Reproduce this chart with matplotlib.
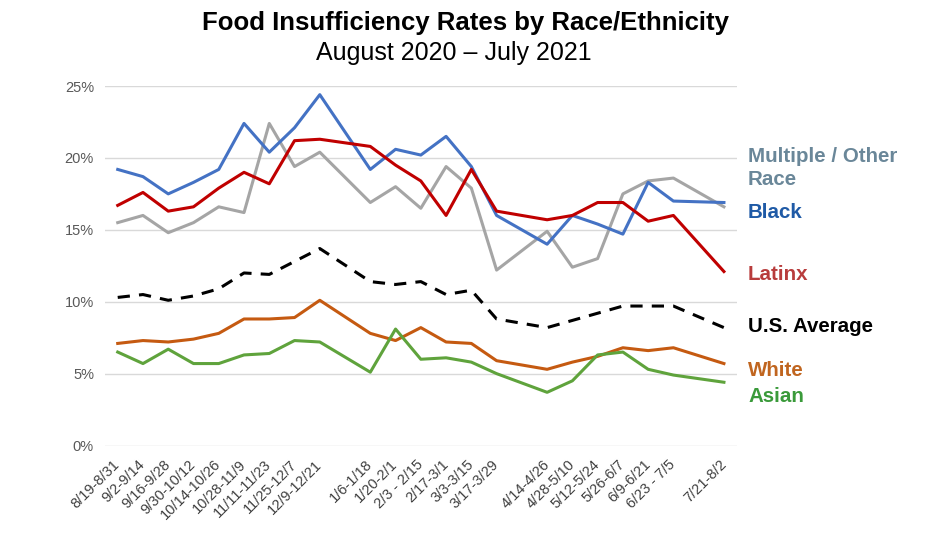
import pandas as pd
import matplotlib
matplotlib.use("Agg")
import matplotlib.pyplot as plt

plt.rcParams['font.family'] = ['Liberation Sans', 'DejaVu Sans']

start_dates = [
    "2020-08-19", "2020-09-02", "2020-09-16", "2020-09-30", "2020-10-14",
    "2020-10-28", "2020-11-11", "2020-11-25", "2020-12-09",
    "2021-01-06", "2021-01-20", "2021-02-03", "2021-02-17", "2021-03-03",
    "2021-03-17", "2021-04-14", "2021-04-28", "2021-05-12", "2021-05-26",
    "2021-06-09", "2021-06-23", "2021-07-21",
]
week_labels = [
    "8/19-8/31", "9/2-9/14", "9/16-9/28", "9/30-10/12", "10/14-10/26",
    "10/28-11/9", "11/11-11/23", "11/25-12/7", "12/9-12/21",
    "1/6-1/18", "1/20-2/1", "2/3 - 2/15", "2/17-3/1", "3/3-3/15",
    "3/17-3/29", "4/14-4/26", "4/28-5/10", "5/12-5/24", "5/26-6/7",
    "6/9-6/21", "6/23 - 7/5", "7/21-8/2",
]

black = [19.2, 18.7, 17.5, 18.3, 19.2, 22.4, 20.4, 22.1, 24.4,
         19.2, 20.6, 20.2, 21.5, 19.4, 16.0, 14.0, 16.0, 15.4, 14.7,
         18.3, 17.0, 16.9]
latinx = [16.7, 17.6, 16.3, 16.6, 17.9, 19.0, 18.2, 21.2, 21.3,
          20.8, 19.5, 18.4, 16.0, 19.2, 16.3, 15.7, 16.0, 16.9, 16.9,
          15.6, 16.0, 12.1]
multiple = [15.5, 16.0, 14.8, 15.5, 16.6, 16.2, 22.4, 19.4, 20.4,
            16.9, 18.0, 16.5, 19.4, 17.9, 12.2, 14.9, 12.4, 13.0, 17.5,
            18.4, 18.6, 16.6]
us_average = [10.3, 10.5, 10.1, 10.4, 10.9, 12.0, 11.9, 12.8, 13.7,
              11.4, 11.2, 11.4, 10.5, 10.8, 8.8, 8.2, 8.7, 9.2, 9.7,
              9.7, 9.7, 8.2]
white = [7.1, 7.3, 7.2, 7.4, 7.8, 8.8, 8.8, 8.9, 10.1,
         7.8, 7.3, 8.2, 7.2, 7.1, 5.9, 5.3, 5.8, 6.2, 6.8,
         6.6, 6.8, 5.7]
asian = [6.5, 5.7, 6.7, 5.7, 5.7, 6.3, 6.4, 7.3, 7.2,
         5.1, 8.1, 6.0, 6.1, 5.8, 5.0, 3.7, 4.5, 6.3, 6.5,
         5.3, 4.9, 4.4]

dates = pd.to_datetime(start_dates)

fig = plt.figure(figsize=(9.3, 5.48), dpi=100)
ax = fig.add_axes([0.113, 0.187, 0.679, 0.656])

ax.plot(dates, multiple, color="#A5A5A5", lw=2.2)
ax.plot(dates, black, color="#4472C4", lw=2.2)
ax.plot(dates, latinx, color="#C00000", lw=2.2)
ax.plot(dates, us_average, color="black", lw=2.2, linestyle=(0, (4, 3)))
ax.plot(dates, white, color="#C55A11", lw=2.2)
ax.plot(dates, asian, color="#5FA33C", lw=2.2)

ax.set_ylim(0, 25)
ax.set_yticks([0, 5, 10, 15, 20, 25])
ax.set_yticklabels([f"{v}%" for v in [0, 5, 10, 15, 20, 25]],
                   fontsize=10.5, color="#595959")
ax.set_xlim(dates[0] - pd.Timedelta(days=7), dates[-1] + pd.Timedelta(days=7))
ax.set_xticks(dates)
ax.set_xticklabels(week_labels, rotation=45, ha="right", va="center",
                   rotation_mode="anchor", fontsize=10.5, color="#404040")
ax.tick_params(axis="both", length=0, pad=8)
ax.tick_params(axis="x", pad=12)
ax.grid(axis="y", color="#D9D9D9", lw=1)
ax.set_axisbelow(True)
for s in ax.spines.values():
    s.set_visible(False)

fig.text(0.5, 0.958, "Food Insufficiency Rates by Race/Ethnicity",
         ha="center", va="center", fontsize=18.5, fontweight="bold")
fig.text(0.488, 0.903, "August 2020 \u2013 July 2021",
         ha="center", va="center", fontsize=18)

labels = [
    ("Multiple / Other\nRace", 168, "#6A8799"),
    ("Black", 212, "#1F5AA6"),
    ("Latinx", 275, "#B83C3C"),
    ("U.S. Average", 326, "black"),
    ("White", 370, "#C0651F"),
    ("Asian", 396, "#3A9A3A"),
]
for text, ypix, col in labels:
    fig.text(748 / 930, 1 - ypix / 548, text, ha="left", va="center",
             fontsize=14.8, fontweight="bold", color=col, linespacing=1.3)

plt.savefig("out.png", dpi=100)
plt.close()
